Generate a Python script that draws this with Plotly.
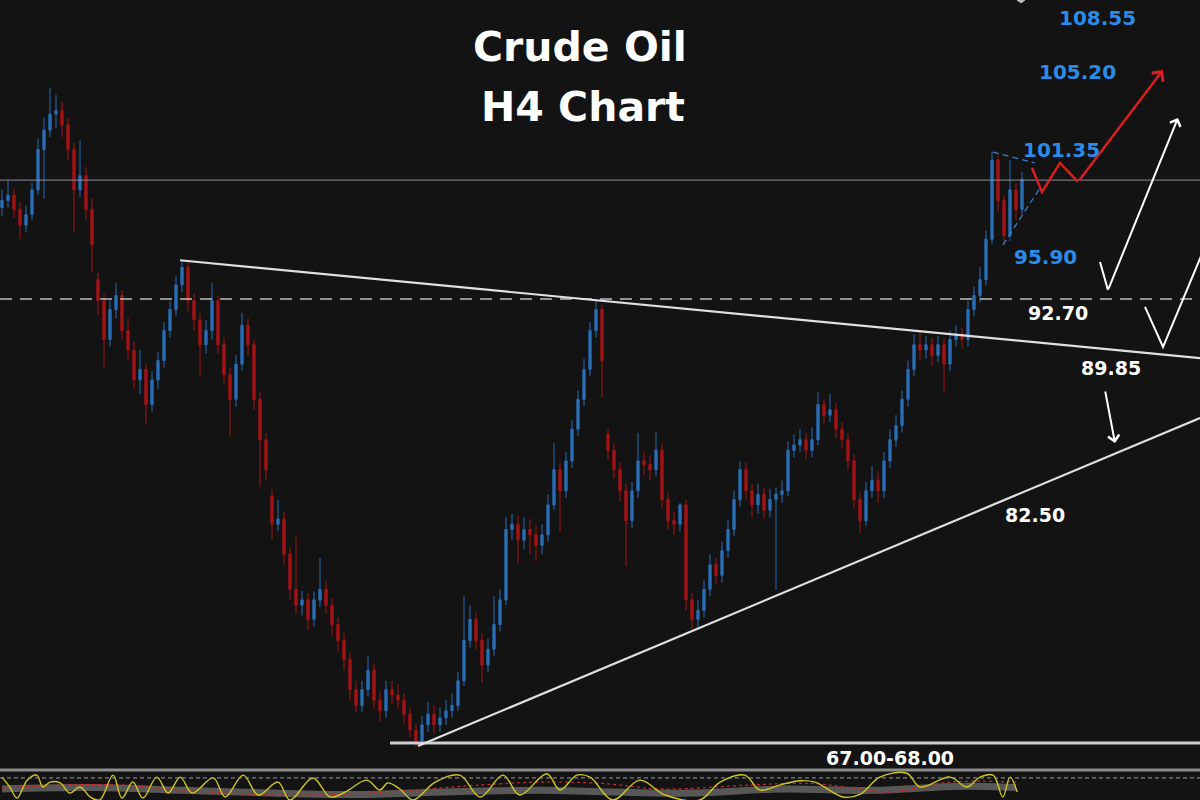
import plotly.graph_objects as go

# ---------------- price data (H4 candles) ----------------
opens = [97.9, 98.3, 98.6, 97.8, 96.9, 97.5, 98.9, 101.2, 102.3, 103.2,
         103.4, 102.6, 101.2, 98.9, 99.7, 97.8, 93.8, 92.6, 90.4, 92.1,
         92.9, 90.9, 89.8, 88.1, 88.7, 86.7, 88.1, 89.2, 90.9, 92.1,
         93.5, 94.5, 92.6, 91.5, 90.1, 90.9, 92.6, 90.1, 88.4, 87.0,
         89.0, 91.2, 90.1, 87.0, 84.7, 81.5, 79.9, 80.2, 78.2, 76.2,
         75.3, 75.6, 74.5, 75.6, 76.2, 75.3, 74.2, 73.3, 72.2, 70.5,
         69.6, 70.5, 71.6, 69.9, 69.3, 70.5, 70.2, 69.9, 69.1, 68.2,
         67.6, 68.5, 69.1, 68.5, 68.9, 69.3, 69.6, 71.0, 73.3, 74.5,
         73.3, 71.9, 72.8, 74.2, 75.6, 79.6, 79.9, 79.0, 79.6, 79.3,
         78.7, 79.3, 81.0, 83.0, 81.8, 83.5, 85.3, 87.0, 88.7, 90.9,
         92.1, 85.0, 84.1, 83.0, 81.8, 80.1, 81.8, 83.5, 83.3, 83.0,
         84.1, 81.3, 80.1, 79.9, 81.0, 75.6, 74.5, 75.0, 76.2, 77.6,
         77.0, 78.4, 79.6, 81.3, 83.0, 81.8, 81.0, 81.6, 80.7, 81.3,
         81.6, 81.8, 84.1, 84.4, 84.7, 84.1, 84.7, 86.7, 86.1, 86.4,
         85.3, 84.7, 83.5, 81.3, 80.1, 81.8, 82.4, 81.8, 83.5, 84.7,
         85.5, 87.0, 88.7, 90.1, 89.8, 90.1, 89.5, 90.1, 89.0, 90.4,
         90.7, 90.4, 92.1, 92.9, 93.8, 96.1, 100.6, 98.3, 96.3, 98.9, 97.8]

highs = [98.9, 99.4, 99.0, 98.2, 98.0, 99.3, 101.8, 103.0, 104.7, 104.3,
         103.9, 103.0, 101.6, 101.7, 100.2, 98.4, 94.2, 93.0, 92.6, 93.6,
         93.2, 91.6, 90.3, 89.8, 89.0, 88.6, 89.7, 91.4, 92.6, 94.0,
         94.9, 94.8, 93.0, 91.9, 91.5, 93.6, 92.9, 90.5, 88.8, 89.5,
         91.9, 91.6, 90.4, 87.4, 85.1, 81.9, 81.3, 80.6, 78.6, 79.2,
         76.1, 76.0, 76.1, 78.0, 76.7, 75.7, 74.6, 73.7, 72.6, 71.0,
         71.0, 72.4, 72.0, 70.4, 71.0, 71.0, 70.8, 70.3, 69.5, 68.6,
         69.0, 69.8, 69.6, 69.5, 69.9, 70.3, 71.5, 75.8, 75.3, 74.9,
         73.7, 73.4, 75.8, 76.2, 80.3, 80.5, 80.4, 80.3, 80.2, 79.8,
         79.9, 81.6, 84.5, 83.4, 84.0, 85.8, 87.5, 89.3, 91.4, 92.6,
         92.4, 85.3, 84.5, 83.4, 82.2, 82.3, 85.1, 84.0, 83.8, 85.1,
         84.5, 81.7, 80.6, 81.1, 81.3, 76.0, 75.6, 76.7, 78.2, 78.0,
         78.9, 80.1, 81.8, 83.5, 83.4, 82.2, 82.2, 82.0, 81.9, 82.0,
         82.4, 84.6, 85.0, 85.3, 85.1, 85.4, 87.4, 87.0, 87.3, 86.8,
         85.7, 85.1, 83.9, 81.7, 82.3, 83.2, 82.9, 84.0, 85.3, 86.1,
         87.5, 89.2, 90.7, 90.8, 90.6, 90.5, 90.6, 90.5, 90.9, 91.2,
         91.1, 92.6, 93.4, 94.5, 96.6, 101.05, 100.9, 98.6, 100.6, 99.3, 99.9]

lows = [97.4, 97.9, 97.3, 96.1, 96.5, 97.2, 98.6, 98.4, 101.9, 102.4,
        101.9, 100.6, 96.5, 98.5, 97.2, 94.2, 91.8, 88.8, 90.0, 91.6,
        90.4, 89.2, 87.6, 87.3, 85.6, 86.3, 87.6, 88.8, 90.5, 91.7,
        93.1, 92.0, 90.9, 88.3, 89.6, 90.4, 89.6, 87.8, 84.9, 86.6,
        88.6, 89.5, 86.4, 82.0, 82.4, 79.0, 79.5, 77.6, 75.6, 74.8,
        74.7, 73.9, 74.1, 75.2, 74.8, 73.6, 72.7, 71.6, 69.9, 69.2,
        69.2, 70.1, 69.4, 68.7, 68.9, 69.7, 69.4, 68.6, 67.8, 67.25,
        67.4, 68.1, 68.0, 68.1, 68.5, 68.9, 69.3, 70.7, 72.9, 72.8,
        70.9, 71.5, 72.4, 73.8, 75.3, 79.0, 77.7, 78.5, 78.2, 77.8,
        78.2, 78.9, 80.7, 79.5, 81.4, 83.1, 84.9, 86.6, 88.3, 90.5,
        87.1, 83.6, 82.5, 81.2, 77.5, 79.7, 81.4, 82.7, 82.4, 82.6,
        80.8, 79.6, 79.3, 79.5, 75.0, 73.9, 74.0, 74.6, 75.8, 76.5,
        76.6, 78.0, 79.2, 80.9, 81.3, 80.3, 80.5, 80.2, 80.3, 76.2,
        81.1, 81.5, 83.7, 84.0, 83.6, 83.7, 84.4, 85.6, 85.7, 84.8,
        84.2, 83.0, 80.8, 79.4, 79.8, 81.4, 81.1, 81.4, 83.1, 84.3,
        85.1, 86.6, 88.3, 89.2, 89.3, 88.9, 89.1, 87.4, 88.6, 90.0,
        89.9, 90.0, 91.7, 92.5, 93.5, 95.8, 97.7, 95.8, 96.0, 97.2, 97.5]

closes = [98.3, 98.6, 97.8, 96.9, 97.5, 98.9, 101.2, 102.3, 103.2, 103.4,
          102.6, 101.2, 98.9, 99.7, 97.8, 95.8, 92.6, 90.4, 92.1, 92.9,
          90.9, 89.8, 88.1, 88.7, 86.7, 88.1, 89.2, 90.9, 92.1, 93.5,
          94.5, 92.6, 91.5, 90.1, 90.9, 92.6, 90.1, 88.4, 87.0, 89.0,
          91.2, 90.1, 87.0, 84.7, 83.0, 79.9, 80.2, 78.2, 76.2, 75.3,
          75.6, 74.5, 75.6, 76.2, 75.3, 74.2, 73.3, 72.2, 70.5, 69.6,
          70.5, 71.6, 69.9, 69.3, 70.5, 70.2, 69.9, 69.1, 68.2, 67.6,
          68.5, 69.1, 68.5, 68.9, 69.3, 69.6, 71.0, 73.3, 74.5, 73.3,
          71.9, 72.8, 74.2, 75.6, 79.6, 79.9, 79.0, 79.6, 79.3, 78.7,
          79.3, 81.0, 83.0, 81.8, 83.5, 85.3, 87.0, 88.7, 90.9, 92.1,
          89.2, 84.1, 83.0, 81.8, 80.1, 81.8, 83.5, 83.3, 83.0, 84.1,
          81.3, 80.1, 79.9, 81.0, 75.6, 74.5, 75.0, 76.2, 77.6, 77.0,
          78.4, 79.6, 81.3, 83.0, 81.8, 81.0, 81.6, 80.7, 81.3, 81.6,
          81.8, 84.1, 84.4, 84.7, 84.1, 84.7, 86.7, 86.1, 86.4, 85.3,
          84.7, 83.5, 81.3, 80.1, 81.8, 82.4, 81.8, 83.5, 84.7, 85.5,
          87.0, 88.7, 90.1, 89.8, 90.1, 89.5, 90.1, 89.0, 90.4, 90.7,
          90.4, 92.1, 92.9, 93.8, 96.1, 100.6, 98.3, 96.3, 98.9, 97.8, 99.5]

bars = list(range(len(closes)))

# ---------------- oscillator (bottom strip) ----------------
osc_bars = [0, 1.3, 2.5, 4.2, 5.8, 6.8, 8, 9.7, 11.3, 13, 14.7, 16.3, 18.5, 20, 21.8,
            23.5, 25.8, 27.7, 29.7, 31.7, 35.2, 37.2, 40.2, 42.7, 46, 48, 51.8, 54.7,
            57.2, 60.8, 63, 64.3, 66.3, 68.5, 72.2, 76.3, 79.7, 83.5, 86.3, 90.8, 93,
            95.8, 98, 101.8, 106.3, 110.5, 116.3, 119.7, 123.8, 126.3, 129.7, 133,
            135.5, 140.2, 143, 146.3, 150.8, 153, 158, 160.8, 163, 165.2, 166.8, 168, 169.2]
osc_main = [83, 47, 7, 72, 90, 47, 65, 62, 25, 47, 11, 0, 90, 7, 65,
            7, 83, 25, 83, 25, 80, 11, 90, 18, 65, 0, 80, 11,
            29, 72, 36, 62, 40, 0, 65, 90, 11, 90, 18, 95, 36,
            90, 83, 0, 72, 18, 0, 65, 90, 36, 55, 70,
            65, 11, 20, 83, 97, 47, 83, 47, 83, 90, 11, 83, 29]
sig_bars = [0, 10, 20, 30, 45, 55, 65, 80, 90, 100, 110, 125, 135, 142, 148, 158, 169]
osc_signal = [43, 54, 54, 36, 18, 20, 30, 55, 65, 60, 40, 55, 60, 43, 29, 65, 65]
band_bars = [0, 15, 30, 45, 60, 75, 90, 100, 115, 130, 145, 160, 169]
osc_band = [40, 45, 35, 25, 20, 30, 35, 30, 25, 40, 35, 50, 45]
osc_level = 80

BG = "#131313"
BLUE_C = "#2a6db5"
RED_C = "#a31417"
LABEL_BLUE = "#2b8be8"

fig = go.Figure()

fig.add_trace(go.Candlestick(
    x=bars, open=opens, high=highs, low=lows, close=closes,
    increasing=dict(line=dict(color=BLUE_C, width=1), fillcolor=BLUE_C),
    decreasing=dict(line=dict(color=RED_C, width=1), fillcolor=RED_C),
    whiskerwidth=0, hoverinfo="skip", showlegend=False))

# oscillator traces
fig.add_trace(go.Scatter(x=band_bars, y=osc_band, yaxis="y2", mode="lines",
                         line=dict(color="rgba(170,170,170,0.45)", width=7, shape="spline"),
                         hoverinfo="skip", showlegend=False))
fig.add_trace(go.Scatter(x=sig_bars, y=osc_signal, yaxis="y2", mode="lines",
                         line=dict(color="#d02828", width=1.2, dash="dot", shape="spline"),
                         hoverinfo="skip", showlegend=False))
fig.add_trace(go.Scatter(x=osc_bars, y=osc_main, yaxis="y2", mode="lines",
                         line=dict(color="#cfc722", width=1.4, shape="spline"),
                         hoverinfo="skip", showlegend=False))

shapes = []
# horizontal levels
shapes.append(dict(type="line", xref="paper", yref="y", x0=0, x1=1, y0=99.46, y1=99.46,
                   line=dict(color="rgba(150,150,165,0.75)", width=1.2)))
shapes.append(dict(type="line", xref="paper", yref="y", x0=0, x1=1, y0=92.7, y1=92.7,
                   line=dict(color="#bdbdbd", width=1.5, dash="12px,8px")))
# support 67-68
shapes.append(dict(type="line", xref="x", yref="y", x0=64.67, x1=200, y0=67.47, y1=67.47,
                   line=dict(color="#cfcfcf", width=3)))
# descending trendline
shapes.append(dict(type="line", xref="x", yref="y", x0=29.67, y0=94.9, x1=199.67, y1=89.34,
                   line=dict(color="#e0e0e0", width=2.2)))
# ascending trendline
shapes.append(dict(type="line", xref="x", yref="y", x0=69.33, y0=67.3, x1=199.67, y1=85.94,
                   line=dict(color="#e0e0e0", width=2.2)))
# separator for oscillator panel
shapes.append(dict(type="line", xref="paper", yref="paper", x0=0, x1=1, y0=1 - 770 / 800, y1=1 - 770 / 800,
                   line=dict(color="#8c8c8c", width=3)))
shapes.append(dict(type="line", xref="paper", yref="y2", x0=0, x1=1, y0=osc_level, y1=osc_level,
                   line=dict(color="#9a9a9a", width=1, dash="4px,3px")))
# blue dashed triangle
shapes.append(dict(type="line", xref="x", yref="y", x0=165.17, y0=101.05, x1=172.17, y1=100.43,
                   line=dict(color="#3a80d0", width=1.2, dash="6px,4px")))
shapes.append(dict(type="line", xref="x", yref="y", x0=166.83, y0=95.77, x1=173.0, y1=99.01,
                   line=dict(color="#3a80d0", width=1.2, dash="6px,4px")))
# red projected path (first legs)
shapes.append(dict(type="path", xref="x", yref="y",
                   path="M 171.67,100.14 L 173.33,98.78 L 176.33,100.43 L 179.33,99.35",
                   line=dict(color="#d81e1e", width=2.5)))
# white V legs
shapes.append(dict(type="line", xref="x", yref="y", x0=183.0, y0=94.8, x1=184.33, y1=93.21,
                   line=dict(color="white", width=2)))
shapes.append(dict(type="path", xref="x", yref="y",
                   path="M 190.5,92.25 L 193.5,89.97 L 201.67,96.62",
                   line=dict(color="white", width=2)))
# small gray diamond at top
shapes.append(dict(type="path", xref="paper", yref="paper",
                   path="M 0.8475,1.0 L 0.8508,0.9963 L 0.8542,1.0 L 0.8508,1.0037 Z",
                   fillcolor="#bbbbbb", line=dict(color="#bbbbbb", width=1)))

annotations = []
# arrows
annotations.append(dict(x=193.5, y=105.71, ax=179.33, ay=99.35, xref="x", yref="y", axref="x", ayref="y",
                        text="", showarrow=True, arrowhead=4, arrowsize=1.1, arrowwidth=2.5,
                        arrowcolor="#d81e1e", standoff=0))
annotations.append(dict(x=196.0, y=102.99, ax=184.33, ay=93.21, xref="x", yref="y", axref="x", ayref="y",
                        text="", showarrow=True, arrowhead=4, arrowsize=1.1, arrowwidth=2,
                        arrowcolor="white", standoff=0))
annotations.append(dict(x=185.5, y=84.52, ax=183.83, ay=87.53, xref="x", yref="y", axref="x", ayref="y",
                        text="", showarrow=True, arrowhead=4, arrowsize=1.1, arrowwidth=2,
                        arrowcolor="white", standoff=0))


def label(txt, px, py, color, size):
    return dict(text=f"<b>{txt}</b>", x=px / 1200, y=1 - py / 800, xref="paper", yref="paper",
                showarrow=False, xanchor="center", yanchor="middle",
                font=dict(family="DejaVu Sans", size=size, color=color))


annotations.append(label("Crude Oil", 580, 47, "white", 41))
annotations.append(label("H4 Chart", 583, 107, "white", 41))
annotations.append(label("108.55", 1097, 18, LABEL_BLUE, 20))
annotations.append(label("105.20", 1077, 72, LABEL_BLUE, 20))
annotations.append(label("101.35", 1061, 150, LABEL_BLUE, 20))
annotations.append(label("95.90", 1045, 257, LABEL_BLUE, 20))
annotations.append(label("92.70", 1058, 313, "white", 19))
annotations.append(label("89.85", 1111, 368, "white", 19))
annotations.append(label("82.50", 1035, 515, "white", 19))
annotations.append(label("67.00-68.00", 890, 758, "white", 19))

fig.update_layout(
    width=1200, height=800,
    margin=dict(l=0, r=0, t=0, b=0),
    paper_bgcolor=BG, plot_bgcolor=BG,
    showlegend=False,
    boxgap=0.45,
    xaxis=dict(range=[-1 / 3, 199.667], visible=False, rangeslider=dict(visible=False), fixedrange=True),
    yaxis=dict(range=[64.23, 109.69], visible=False, domain=[0, 1], fixedrange=True),
    yaxis2=dict(range=[0, 116], visible=False, domain=[0, 0.04], anchor="x", fixedrange=True),
    shapes=shapes,
    annotations=annotations,
)

fig.write_html("out.html", config={"displayModeBar": False},
               post_script="document.body.style.margin='0';document.body.style.background='#131313';")
